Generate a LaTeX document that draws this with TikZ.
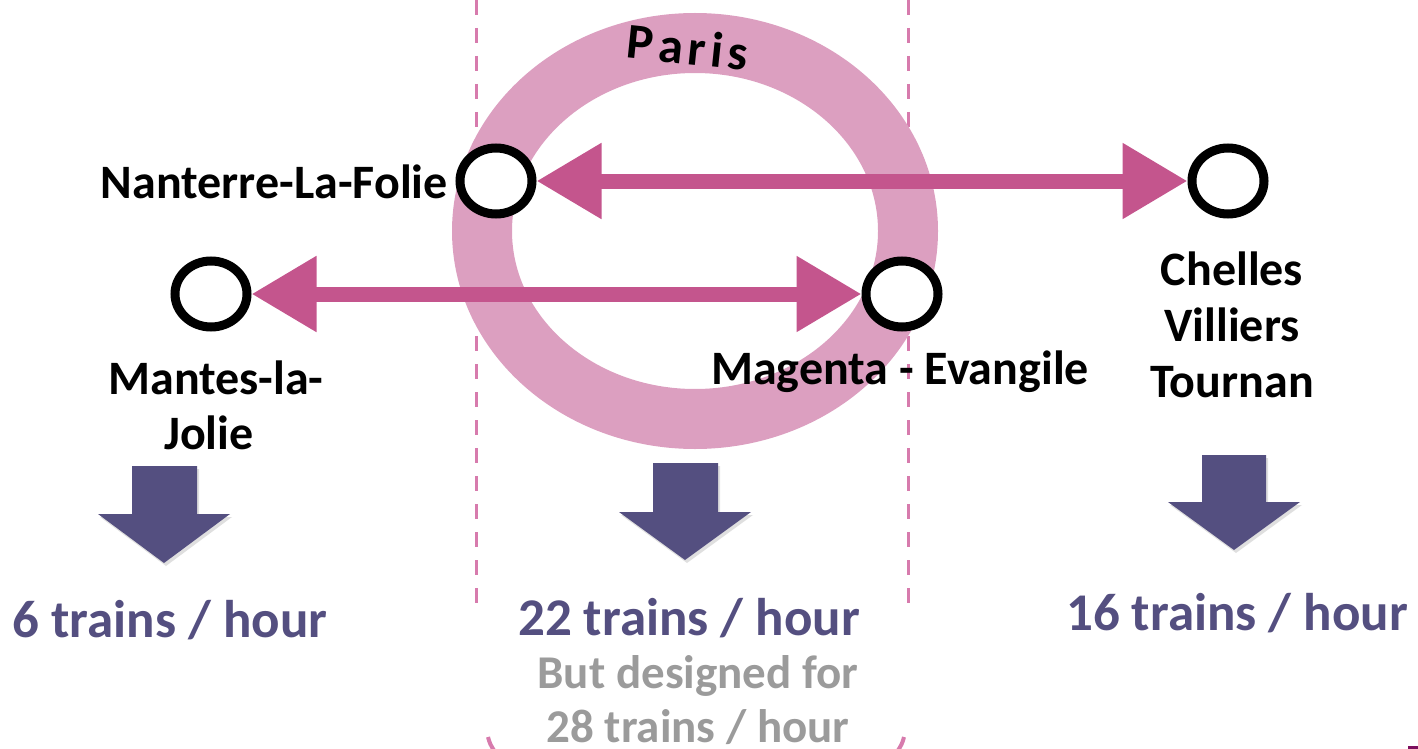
\documentclass[tikz,border=0pt]{standalone}
\usepackage{fontspec}
\setmainfont{Carlito}
\usetikzlibrary{arrows.meta,shapes.geometric,shadows}
\definecolor{ringpink}{HTML}{DC9FC0}
\definecolor{arrowpink}{HTML}{C4558D}
\definecolor{dashpink}{HTML}{D77BAD}
\definecolor{navy}{HTML}{544F80}
\definecolor{greytxt}{HTML}{9B9B9B}
\definecolor{darkmag}{HTML}{7D0E5E}
\tikzset{
  station/.style={ellipse, draw=black, line width=9pt, fill=white, minimum width=72pt, minimum height=66pt, inner sep=0pt},
  route/.style={arrowpink, line width=15pt, {Triangle[length=65pt,width=72pt]}-{Triangle[length=65pt,width=72pt]}},
  stname/.style={font=\fontsize{48}{56}\selectfont\bfseries, text=black, inner sep=0pt},
  count/.style={font=\fontsize{53}{60}\selectfont\bfseries, text=navy, inner sep=0pt},
  greynote/.style={font=\fontsize{47}{55}\selectfont\bfseries, text=greytxt, inner sep=0pt},
  divider/.style={dashpink, line width=3pt, dash pattern=on 15pt off 13pt},
  downarrow/.style={fill=navy, draw=none, drop shadow={opacity=0.25, shadow xshift=2pt, shadow yshift=-3pt}}
}
\begin{document}
\begin{tikzpicture}[x=1pt,y=-1pt]
\useasboundingbox (0,0) rectangle (1418,749);
% dashed dividers
\coordinate (dl1) at (476,0); \coordinate (dl2) at (476,614);
\coordinate (dr1) at (908,0); \coordinate (dr2) at (908,614);
\draw[divider] (dl1) -- (dl2);
\draw[divider] (dr1) -- (dr2);
% Paris ring
\draw[ringpink, line width=60pt] (695,231) ellipse [x radius=213, y radius=188];
\node[font=\fontsize{50}{54}\selectfont\bfseries, rotate=-6, inner sep=0pt] (paris) at (688,47) {P\kern5pt a\kern5pt r\kern5pt i\kern5pt s};
% stations
\node[station] (nanterre) at (496,181) {};
\node[station] (chelles) at (1228,181) {};
\node[station] (mantes) at (211,294) {};
\node[station] (magenta) at (902,294) {};
% routes
\draw[route] (nanterre) -- (chelles);
\draw[route] (mantes) -- (magenta);
% station labels
\node[stname, anchor=base east] (lnanterre) at (448,198) {Nanterre-La-Folie};
\node[stname, anchor=base] (lmantes1) at (216,394) {Mantes-la-};
\node[stname, anchor=base] (lmantes2) at (209,449) {Jolie};
\node[stname, anchor=base] (lmagenta) at (900,384) {Magenta - Evangile};
\node[stname, anchor=base] (lchelles1) at (1232,285) {Chelles};
\node[stname, anchor=base] (lchelles2) at (1232,341) {Villiers};
\node[stname, anchor=base] (lchelles3) at (1232,397) {Tournan};
% down arrows
\path[downarrow] (132,466) -- (197,466) -- (197,514) -- (230,514) -- (164,563) -- (98,514) -- (132,514) -- cycle;
\path[downarrow] (653,463) -- (718,463) -- (718,512) -- (751,512) -- (685,560) -- (619,512) -- (653,512) -- cycle;
\path[downarrow] (1202,455) -- (1266,455) -- (1266,502) -- (1300,502) -- (1234,550) -- (1168,502) -- (1202,502) -- cycle;
% counts
\node[count, anchor=base] (c1) at (170,637) {6 trains / hour};
\node[count, anchor=base] (c2) at (689,635) {22 trains / hour};
\node[count, anchor=base] (c3) at (1237,630) {16 trains / hour};
\node[greynote, anchor=base] (g1) at (698,688) {But designed for};
\node[greynote, anchor=base] (g2) at (698,742) {28 trains / hour};
% bottom bracket ends
\draw[dashpink, line width=4pt] (488,737) .. controls (490,744) .. (495,752);
\draw[dashpink, line width=4pt] (904,737) .. controls (902,744) .. (897,752);
% corner mark
\fill[darkmag] (1408,746) rectangle (1418,749);
\end{tikzpicture}
\end{document}
